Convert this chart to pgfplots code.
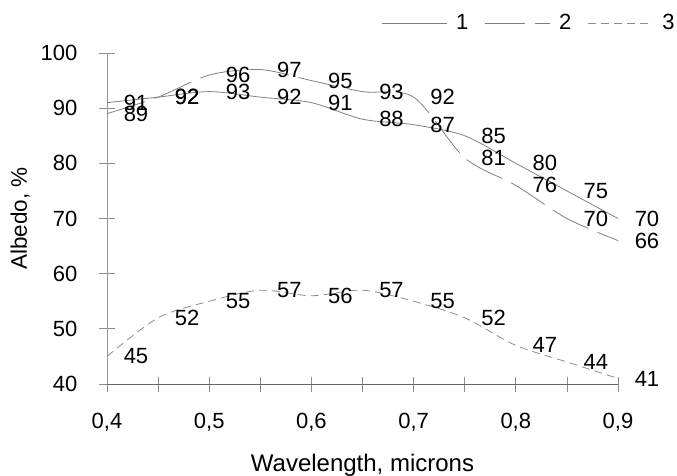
\documentclass[border=0pt]{standalone}
\usepackage{fontspec}
\setmainfont{Liberation Sans}
\usepackage{pgfplots}
\pgfplotsset{compat=1.18}
\begin{document}
\fontsize{22}{26}\selectfont
\begin{tikzpicture}[x=1pt,y=1pt]
\useasboundingbox (0,0) rectangle (677,475);
\begin{axis}[
  at={(107pt,91pt)}, anchor=south west,
  scale only axis, width=511pt, height=331pt,
  xmin=0.4, xmax=0.9, ymin=40, ymax=100,
  clip=false,
  axis x line=bottom, axis y line=left,
  x axis line style={-, draw=black!60, line width=0.8pt},
  y axis line style={-, draw=black!40, line width=0.8pt},
  tick align=center, major tick length=15pt,
  tick style={draw=black!45, line width=0.8pt},
  xtick={0.4,0.45,0.5,0.55,0.6,0.65,0.7,0.75,0.8,0.85,0.9},
  xticklabels={{0,4},{},{0,5},{},{0,6},{},{0,7},{},{0,8},{},{0,9}},
  ytick={40,50,60,70,80,90,100},
  yticklabels={40,50,60,70,80,90,100},
  xticklabel style={anchor=base, inner sep=0pt, yshift=-37pt},
  yticklabel style={anchor=east, inner sep=0pt, xshift=-22pt},
  /pgf/number format/assume math mode=true,
  xlabel={Wavelength, microns},
  xlabel style={at={(axis description cs:0.5,-0.263)}, anchor=base, inner sep=0pt, font=\fontsize{24}{28}\selectfont},
  ylabel={Albedo, \%},
  ylabel style={at={(axis description cs:-0.170,0.5)}, anchor=center, inner sep=0pt, font=\fontsize{22.5}{26}\selectfont},
  nodes near coords,
  every node near coord/.append style={anchor=center, inner sep=0pt, xshift=29pt, text=black},
  legend columns=3,
  legend image code/.code={\draw[#1] (0pt,0pt) -- (65pt,0pt);},
  legend style={at={(axis description cs:1.111,1.09)}, anchor=east, draw=none, fill=none,
    inner sep=0pt, nodes={inner sep=0pt},
    /tikz/every odd column/.style={column sep=9pt},
    /tikz/every even column/.style={column sep=16pt}},
]
\addplot[black!50, line width=0.8pt, smooth, tension=0.5] coordinates {
 (0.4,91) (0.45,92) (0.5,93) (0.55,92) (0.6,91) (0.65,88) (0.7,87) (0.75,85) (0.8,80) (0.85,75) (0.9,70)};
\addlegendentry{1}
\addplot[black!50, line width=0.8pt, smooth, tension=0.5, dash pattern=on 40pt off 10pt] coordinates {
 (0.4,89) (0.45,92) (0.5,96) (0.55,97) (0.6,95) (0.65,93) (0.7,92) (0.75,81) (0.8,76) (0.85,70) (0.9,66)};
\addlegendentry{2}
\addplot[black!45, line width=0.8pt, smooth, tension=0.5, dash pattern=on 8pt off 5pt] coordinates {
 (0.4,45) (0.45,52) (0.5,55) (0.55,57) (0.6,56) (0.65,57) (0.7,55) (0.75,52) (0.8,47) (0.85,44) (0.9,41)};
\addlegendentry{3}
\end{axis}
\end{tikzpicture}
\end{document}
